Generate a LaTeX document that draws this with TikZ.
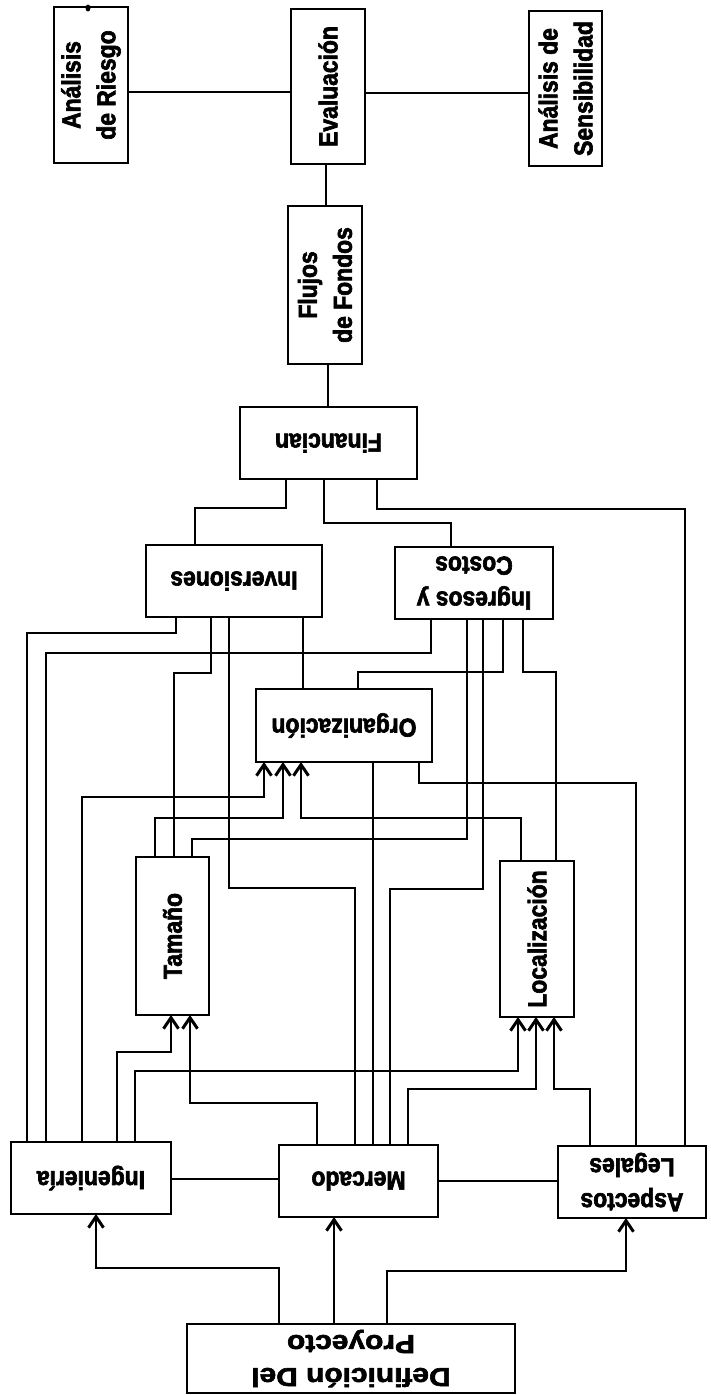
\documentclass[tikz,border=0pt]{standalone}
\usepackage{fontspec}
\setmainfont{Liberation Sans}[FakeBold=2.4,FakeStretch=0.88]
\newfontfamily\widefont{Liberation Sans}[FakeStretch=1.15,FakeBold=2.4]
\usetikzlibrary{arrows.meta}
\begin{document}
\begin{tikzpicture}[x=1pt,y=-1pt,
  box/.style={draw, rectangle, line width=2pt, inner sep=0pt, outer sep=0pt},
  lbl/.style={font=\fontsize{26}{35}\selectfont\bfseries, align=center, inner sep=0pt},
  wire/.style={line width=1.6pt, line join=miter},
  arr/.style={wire, -{Straight Barb[length=11pt,width=15pt,line width=3pt]}}]
\fill[white] (0,0) rectangle (710,1395);
\useasboundingbox (0,0) rectangle (710,1395);
% boxes
\node[box, minimum width=74pt, minimum height=156pt] (riesgo) at (91,85) {};
\node[box, minimum width=74pt, minimum height=155pt] (eval) at (328,86.5) {};
\node[box, minimum width=73pt, minimum height=155pt] (sens) at (565.5,88.5) {};
\node[box, minimum width=74pt, minimum height=158pt] (flujos) at (325,285) {};
\node[box, minimum width=177pt, minimum height=72pt] (fin) at (328.5,443) {};
\node[box, minimum width=176pt, minimum height=72pt] (inv) at (234,581) {};
\node[box, minimum width=158pt, minimum height=72pt] (ingc) at (474,583) {};
\node[box, minimum width=176pt, minimum height=73pt] (org) at (344,725.5) {};
\node[box, minimum width=73pt, minimum height=158pt] (tam) at (172.5,936) {};
\node[box, minimum width=74pt, minimum height=156pt] (loc) at (537,939) {};
\node[box, minimum width=160pt, minimum height=72pt] (ingen) at (91,1178) {};
\node[box, minimum width=159pt, minimum height=72pt] (merc) at (358.5,1181) {};
\node[box, minimum width=148pt, minimum height=72pt] (asp) at (632,1182) {};
\node[box, minimum width=328pt, minimum height=69pt] (def) at (351,1358.5) {};
% labels
\node[lbl, rotate=90] (riesgo-t) at (riesgo) {Análisis\\de Riesgo};
\node[lbl, rotate=90] (eval-t) at (eval) {Evaluación};
\node[lbl, rotate=90] (sens-t) at (sens) {Análisis de\\Sensibilidad};
\node[lbl, rotate=90] (flujos-t) at (flujos) {Flujos\\de Fondos};
\node[lbl, rotate=180] (fin-t) at (fin) {Financian};
\node[lbl, rotate=180] (inv-t) at (inv) {Inversiones};
\node[lbl, rotate=180] (ingc-t) at (ingc) {Ingresos y\\Costos};
\node[lbl, rotate=180] (org-t) at (org) {Organización};
\node[lbl, rotate=90] (tam-t) at (tam) {Tamaño};
\node[lbl, rotate=90] (loc-t) at (loc) {Localización};
\node[lbl, rotate=180] (ingen-t) at (ingen) {Ingeniería};
\node[lbl, rotate=180] (merc-t) at (merc) {Mercado};
\node[lbl, rotate=180] (asp-t) at (asp) {Aspectos\\Legales};
\node[lbl, rotate=180, font=\fontsize{26}{33}\selectfont\bfseries\widefont] (def-t) at (def) {Definición Del\\Proyecto};
% small mark on top of the first box
\fill (88,8) ellipse [x radius=2.5pt, y radius=3.5pt];
% connectors
\draw[wire] (riesgo.east |- 0,92) -- (eval.west |- 0,92);
\draw[wire] (eval.east |- 0,93) -- (sens.west |- 0,93);
\draw[wire] (eval.south -| 326,0) -- (flujos.north -| 326,0);
\draw[wire] (flujos.south -| 328,0) -- (fin.north -| 328,0);
\draw[wire] (fin.south -| 286,0) |- (195,508) -- (inv.north -| 195,0);
\draw[wire] (fin.south -| 324,0) |- (451,523) -- (ingc.north -| 451,0);
\draw[wire] (fin.south -| 377,0) |- (685,509) -- (asp.north -| 685,0);
\draw[wire] (inv.south -| 176,0) |- (27,633) -- (ingen.north -| 27,0);
\draw[wire] (inv.south -| 211,0) |- (174,673) -- (tam.north -| 174,0);
\draw[wire] (inv.south -| 229,0) |- (355,888) -- (merc.north -| 355,0);
\draw[wire] (inv.south -| 303,0) -- (org.north -| 303,0);
\draw[wire] (ingc.south -| 431,0) |- (46,653) -- (ingen.north -| 46,0);
\draw[wire] (ingc.south -| 467,0) |- (192,839) -- (tam.north -| 192,0);
\draw[wire] (ingc.south -| 483,0) |- (390,889) -- (merc.north -| 390,0);
\draw[wire] (ingc.south -| 503,0) |- (358,672) -- (org.north -| 358,0);
\draw[wire] (ingc.south -| 523,0) |- (556,672) -- (loc.north -| 556,0);
\draw[wire] (org.south -| 373,0) -- (merc.north -| 373,0);
\draw[wire] (org.south -| 419,0) |- (636,783) -- (asp.north -| 636,0);
\draw[arr] (ingen.north -| 82,0) |- (264,797) -- (org.south -| 264,0);
\draw[arr] (tam.north -| 155,0) |- (283,818) -- (org.south -| 283,0);
\draw[arr] (loc.north -| 521,0) |- (301,818) -- (org.south -| 301,0);
\draw[arr] (ingen.north -| 117,0) |- (171,1052) -- (tam.south -| 171,0);
\draw[arr] (merc.north -| 317,0) |- (190,1103) -- (tam.south -| 190,0);
\draw[arr] (ingen.north -| 135,0) |- (518,1071) -- (loc.south -| 518,0);
\draw[arr] (merc.north -| 408,0) |- (536,1089) -- (loc.south -| 536,0);
\draw[arr] (asp.north -| 590,0) |- (554,1089) -- (loc.south -| 554,0);
\draw[wire] (ingen.east |- 0,1179) -- (merc.west |- 0,1179);
\draw[wire] (merc.east |- 0,1181) -- (asp.west |- 0,1181);
\draw[arr] (def.north -| 279,0) |- (96,1268) -- (ingen.south -| 96,0);
\draw[arr] (def.north -| 334,0) -- (merc.south -| 334,0);
\draw[arr] (def.north -| 387,0) |- (626,1271) -- (asp.south -| 626,0);
\end{tikzpicture}
\end{document}
